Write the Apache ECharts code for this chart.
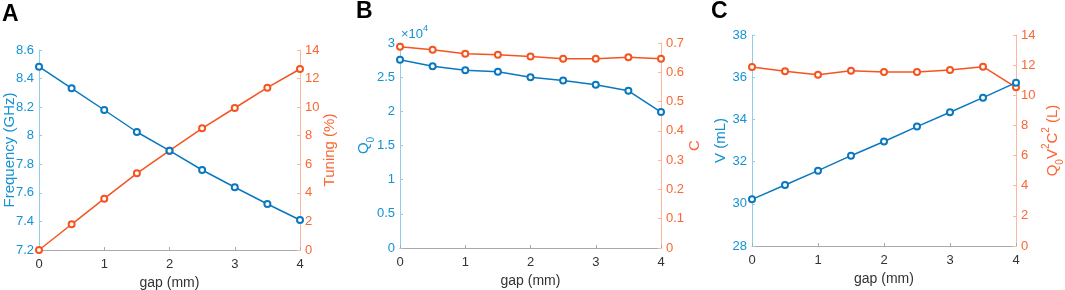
<!DOCTYPE html>
<html>
<head>
<meta charset="utf-8">
<script src="https://cdn.jsdelivr.net/npm/echarts@6/dist/echarts.min.js"></script>
<style>
  html, body { margin: 0; padding: 0; background: #fff; }
  #main { width: 1065px; height: 290px; }
</style>
</head>
<body>
<div id="main"></div>
<script>
var gap = [0, 0.5, 1, 1.5, 2, 2.5, 3, 3.5, 4];
// panel A
var frequency = [8.483, 8.332, 8.18, 8.026, 7.895, 7.76, 7.639, 7.522, 7.41];
var tuning = [0, 1.8, 3.59, 5.37, 6.95, 8.52, 9.94, 11.36, 12.67];
// panel B
var q0 = [27560, 26600, 26000, 25800, 25000, 24500, 23900, 23000, 19900];
var cval = [0.6875, 0.677, 0.6636, 0.660, 0.654, 0.646, 0.646, 0.651, 0.646];
// panel C
var volume = [30.21, 30.89, 31.57, 32.28, 32.95, 33.66, 34.34, 35.03, 35.74];
var q0v2c2 = [11.88, 11.59, 11.37, 11.62, 11.55, 11.55, 11.68, 11.9, 10.53];

var BLUE = '#0a78c0', BLUE_TXT = '#1592d2', BLUE_AX = '#8fcdea';
var ORANGE = '#f5541f', ORANGE_TXT = '#fb6634', ORANGE_AX = '#ffb69e';
var FONT = 'Liberation Sans';

function pairs(ys) {
  return gap.map(function (g, i) { return [g, ys[i]]; });
}

// rich styles for sub/superscripts in axis names
function richFor(color) {
  return {
    n: { color: color, fontFamily: FONT, fontSize: 15, lineHeight: 24, verticalAlign: 'middle' },
    sub: { color: color, fontFamily: FONT, fontSize: 10, lineHeight: 10, verticalAlign: 'bottom' },
    sup: { color: color, fontFamily: FONT, fontSize: 10, lineHeight: 10, verticalAlign: 'top' }
  };
}

var grids = [
  { left: 39, top: 50, width: 261, height: 200, outerBoundsMode: 'none' },
  { left: 400, top: 43, width: 261, height: 205, outerBoundsMode: 'none' },
  { left: 752, top: 35, width: 264, height: 211, outerBoundsMode: 'none' }
];

function xAx(i) {
  return {
    type: 'value', gridIndex: i, min: 0, max: 4, interval: 1,
    name: 'gap (mm)', nameLocation: 'middle', nameGap: 26, nameMoveOverlap: false,
    nameTextStyle: { color: '#333', fontFamily: FONT, fontSize: 14 },
    axisLine: { lineStyle: { color: '#aaa' } },
    axisTick: { inside: true, length: 3, lineStyle: { color: '#aaa' } },
    axisLabel: { color: '#333', fontFamily: FONT, fontSize: 13, margin: 8 },
    splitLine: { show: false }
  };
}

function yAx(i, pos, min, max, interval, name, fmt, gapPx) {
  var left = pos === 'left';
  var c = left ? BLUE_TXT : ORANGE_TXT;
  return {
    type: 'value', gridIndex: i, position: pos, min: min, max: max, interval: interval,
    name: name, nameLocation: 'middle', nameGap: gapPx, nameMoveOverlap: false,
    nameTextStyle: { color: c, fontFamily: FONT, fontSize: 15, rich: richFor(c) },
    axisLine: { show: true, lineStyle: { color: left ? BLUE_AX : ORANGE_AX } },
    axisTick: { show: true, inside: true, length: 3, lineStyle: { color: left ? BLUE_AX : ORANGE_AX } },
    axisLabel: { color: c, fontFamily: FONT, fontSize: 13, margin: 5, formatter: fmt },
    splitLine: { show: false }
  };
}

function line(xi, yi, ys, color) {
  return {
    type: 'line', xAxisIndex: xi, yAxisIndex: yi, data: pairs(ys),
    symbol: 'emptyCircle', symbolSize: 6,
    lineStyle: { color: color, width: 1.5 },
    itemStyle: { color: color, borderWidth: 1.2 },
    z: yi % 2 ? 3 : 4
  };
}

var myChart = echarts.init(document.getElementById('main'));
myChart.setOption({
  animation: false,
  grid: grids,
  xAxis: [xAx(0), xAx(1), xAx(2)],
  yAxis: [
    yAx(0, 'left', 7.2, 8.6, 0.2, 'Frequency (GHz)', function (v) { return +v.toFixed(1) + ''; }, 22),
    yAx(0, 'right', 0, 14, 2, 'Tuning (%)', null, 22),
    yAx(1, 'left', 0, 30000, 5000, '{n|Q}{sub|0}', function (v) { return (v / 10000) + ''; }, 24),
    yAx(1, 'right', 0, 0.7, 0.1, 'C', function (v) { return v === 0 ? '0' : +v.toFixed(1) + ''; }, 26),
    yAx(2, 'left', 28, 38, 2, 'V (mL)', null, 24),
    yAx(2, 'right', 0, 14, 2, '{n|Q}{sub|0}{n|V}{sup|2}{n|C}{sup|2}{n| (L)}', null, 25)
  ],
  series: [
    line(0, 1, tuning, ORANGE),
    line(0, 0, frequency, BLUE),
    line(1, 3, cval, ORANGE),
    line(1, 2, q0, BLUE),
    line(2, 5, q0v2c2, ORANGE),
    line(2, 4, volume, BLUE)
  ],
  graphic: [
    { type: 'text', left: 2, top: 3, style: { text: 'A', font: 'bold 23px ' + FONT, fill: '#000' } },
    { type: 'text', left: 356, top: 0, style: { text: 'B', font: 'bold 23px ' + FONT, fill: '#000' } },
    { type: 'text', left: 711, top: 0, style: { text: 'C', font: 'bold 23px ' + FONT, fill: '#000' } },
    {
      type: 'text', left: 401, top: 24,
      style: {
        text: '{n|×10}{sup|4}',
        rich: {
          n: { fill: BLUE_TXT, fontFamily: FONT, fontSize: 13, lineHeight: 20, verticalAlign: 'middle' },
          sup: { fill: BLUE_TXT, fontFamily: FONT, fontSize: 9, lineHeight: 9, verticalAlign: 'top' }
        }
      }
    }
  ]
});
</script>
</body>
</html>
